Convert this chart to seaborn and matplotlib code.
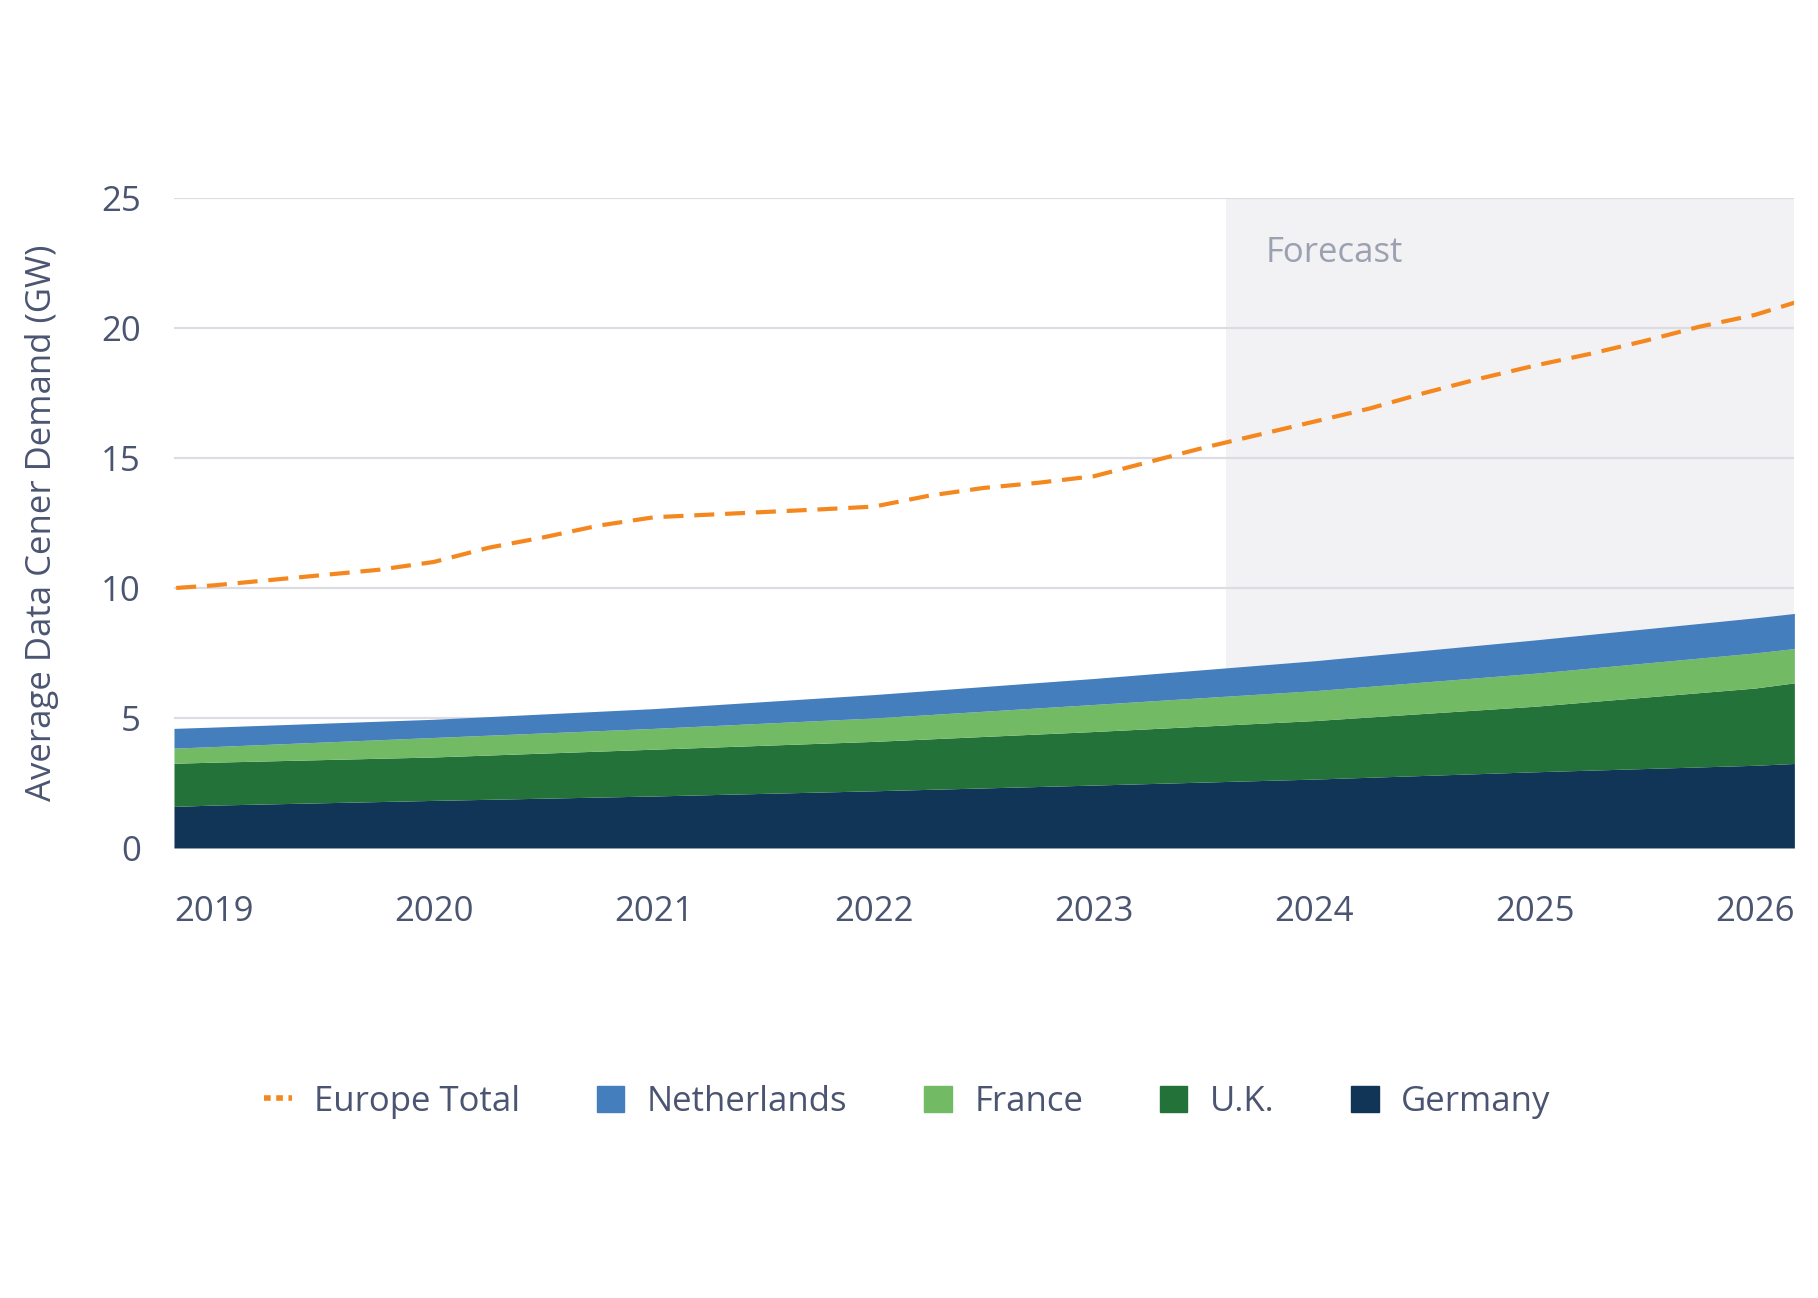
## Europe data center demand: stacked country areas + dashed Europe total
import pandas as pd
import numpy as np
import matplotlib.pyplot as plt
import seaborn as sns
from matplotlib.lines import Line2D
from matplotlib.patches import Patch

#_Data -----------------
total_years = [2018.83, 2019.0, 2019.25, 2019.5, 2019.75, 2020.0, 2020.25, 2020.5,
               2020.75, 2021.0, 2021.25, 2021.5, 2021.75, 2022.0, 2022.25, 2022.5,
               2022.75, 2023.0, 2023.25, 2023.5, 2023.75, 2024.0, 2024.25, 2024.5,
               2024.75, 2025.0, 2025.25, 2025.5, 2025.75, 2026.0, 2026.18]
europe_total = [10.0, 10.1, 10.3, 10.5, 10.7, 11.0, 11.55, 11.95,
                12.4, 12.72, 12.82, 12.92, 13.02, 13.13, 13.55, 13.85,
                14.05, 14.3, 14.85, 15.4, 15.9, 16.4, 16.9, 17.5,
                18.05, 18.55, 19.0, 19.5, 20.05, 20.5, 20.97]

area_years = [2018.82, 2019, 2020, 2021, 2022, 2023, 2024, 2025, 2026, 2026.18]
germany = [1.6, 1.65, 1.83, 2.0, 2.2, 2.42, 2.65, 2.93, 3.18, 3.25]
uk = [1.66, 1.65, 1.67, 1.8, 1.9, 2.06, 2.25, 2.52, 2.97, 3.1]
france = [0.58, 0.6, 0.75, 0.8, 0.9, 1.04, 1.15, 1.27, 1.35, 1.32]
netherlands = [0.76, 0.75, 0.7, 0.76, 0.9, 1.0, 1.15, 1.28, 1.35, 1.35]

tick_years = [2019, 2020, 2021, 2022, 2023, 2024, 2025, 2026]
forecast_start = 2023.6

total_df = pd.DataFrame({'year': total_years, 'total': europe_total})

#_Style -----------------
sns.set_theme(style="white")
plt.rcParams['font.family'] = ['Open Sans', 'DejaVu Sans']
text_color = '#4b5571'
fs = 25
colors = {'Germany': '#113556', 'U.K.': '#23723a', 'France': '#72ba63',
          'Netherlands': '#447ebd', 'Europe Total': '#f5871f'}

fig = plt.figure(figsize=(18.18, 12.98), dpi=100)
ax = fig.add_axes([0.0957, 0.3467, 0.8913, 0.5008])

#_Forecast shading -----------------
ax.axvspan(forecast_start, 2026.18, color='#f2f2f4', zorder=0, lw=0)
ax.text(2023.78, 22.9, 'Forecast', color='#9ba1b0', fontsize=fs,
        va='center', ha='left', zorder=1)

#_Grid -----------------
for y in [0, 5, 10, 15, 20, 25]:
    ax.axhline(y, color='#dcdce2', lw=1.6, zorder=1)

#_Stacked areas -----------------
ax.stackplot(area_years, germany, uk, france, netherlands,
             colors=[colors['Germany'], colors['U.K.'], colors['France'], colors['Netherlands']],
             lw=0, zorder=2)

#_Europe total -----------------
sns.lineplot(data=total_df, x='year', y='total', ax=ax, color=colors['Europe Total'],
             lw=3, zorder=3)
ax.lines[-1].set_dashes((4.8, 2.6))

ax.set_xlim(2018.82, 2026.18)
ax.set_ylim(0, 25)
ax.set_xticks(tick_years)
ax.set_xticklabels([str(y) for y in tick_years])
ax.set_yticks([0, 5, 10, 15, 20, 25])
ax.tick_params(axis='x', length=0, pad=34, labelsize=fs, labelcolor=text_color)
ax.tick_params(axis='y', length=0, pad=24, labelsize=fs, labelcolor=text_color)
ax.set_xlabel('')
ax.set_ylabel('Average Data Cener Demand (GW)', fontsize=fs, color=text_color)
ax.yaxis.set_label_coords(-0.071, 0.5)
for s in ax.spines.values():
    s.set_visible(False)

#_Legend -----------------
handles = [Line2D([0], [0], color=colors['Europe Total'], lw=4, dashes=(1.4, 1.2)),
           Patch(color=colors['Netherlands']),
           Patch(color=colors['France']),
           Patch(color=colors['U.K.']),
           Patch(color=colors['Germany'])]
labels = ['Europe Total', 'Netherlands', 'France', 'U.K.', 'Germany']
leg = fig.legend(handles, labels, loc='center', bbox_to_anchor=(0.499, 0.151), ncol=5,
                 frameon=False, fontsize=fs, handlelength=0.8, handleheight=0.8,
                 handletextpad=0.65, columnspacing=2.2)
for t in leg.get_texts():
    t.set_color(text_color)
leg.get_lines()[0].set_dashes((1.2, 1.0))

plt.savefig("out.png", dpi=100)
plt.close()
